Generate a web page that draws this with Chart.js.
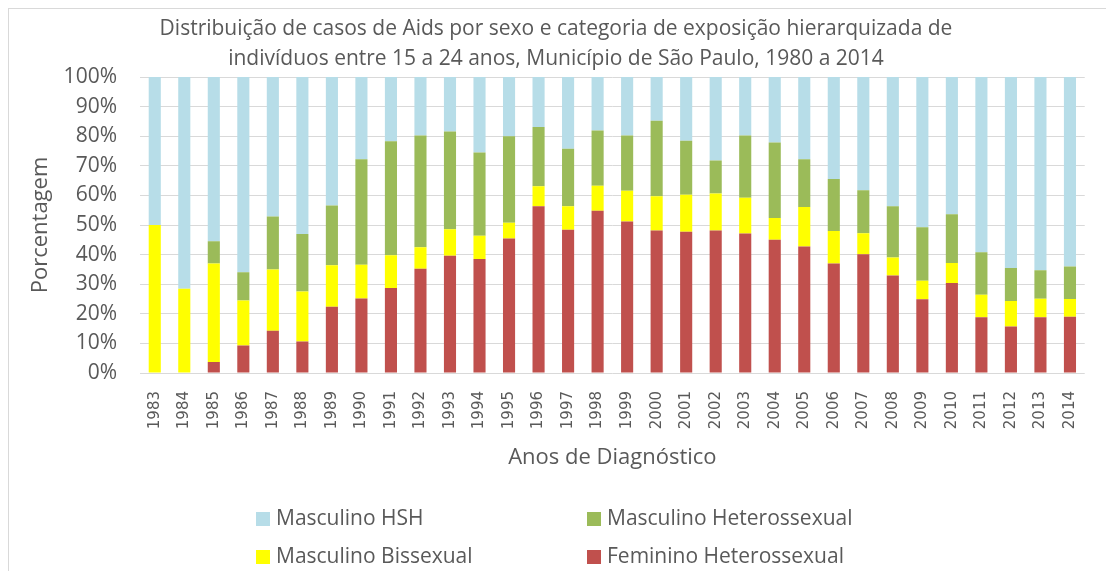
<!DOCTYPE html>
<html>
<head>
<meta charset="utf-8">
<script src="https://cdn.jsdelivr.net/npm/chart.js@4/dist/chart.umd.min.js"></script>
<style>
  body { margin: 0; background: #fff; overflow: hidden; }
  #wrap { position: relative; width: 1106px; height: 571px; }
  #frame { position: absolute; left: 8px; top: 8px; width: 1200px; height: 700px;
           border-left: 1px solid #d9d9d9; border-top: 1px solid #d9d9d9; }
  #chart { position: absolute; left: 0; top: 0; }
  .leg { position: absolute; font-family: "Open Sans", sans-serif; font-size: 21px;
         color: #595959; line-height: 24px; white-space: nowrap; }
  .leg i { display: inline-block; width: 14px; height: 14px; margin-right: 6px;
           vertical-align: -1px; }
</style>
</head>
<body>
<div id="wrap">
  <div id="frame"></div>
  <canvas id="chart" width="1106" height="571"></canvas>
  <div class="leg" style="left:256px; top:505px;"><i style="background:#b7dde8"></i>Masculino HSH</div>
  <div class="leg" style="left:587px; top:505px;"><i style="background:#9bbb59"></i>Masculino Heterossexual</div>
  <div class="leg" style="left:256px; top:543px;"><i style="background:#ffff00"></i>Masculino Bissexual</div>
  <div class="leg" style="left:587px; top:543px;"><i style="background:#c0504d"></i>Feminino Heterossexual</div>
</div>
<script>
// anos de diagnóstico
const years = ["1983", "1984", "1985", "1986", "1987", "1988", "1989", "1990", "1991", "1992",
  "1993", "1994", "1995", "1996", "1997", "1998", "1999", "2000", "2001", "2002",
  "2003", "2004", "2005", "2006", "2007", "2008", "2009", "2010", "2011", "2012",
  "2013", "2014"];

// percentuais (de baixo para cima na pilha)
const femHetero = [0, 0, 3.7, 9.3, 14.3, 10.6, 22.4, 25.2, 28.7, 35.2, 39.6, 38.5, 45.4, 56.3, 48.4, 54.8,
  51.2, 48.1, 47.7, 48.1, 47.1, 45.0, 42.7, 37.0, 40.1, 32.9, 24.9, 30.4, 18.8, 15.7, 18.8, 19.0];
const mascBissexual = [50.0, 28.5, 33.3, 15.2, 20.7, 16.9, 14.0, 11.4, 11.1, 7.3, 9.0, 7.9, 5.4, 6.8, 7.9, 8.5,
  10.4, 11.6, 12.5, 12.5, 12.1, 7.4, 13.4, 11.0, 7.1, 6.1, 6.3, 6.8, 7.6, 8.6, 6.3, 6.0];
const mascHetero = [0, 0, 7.5, 9.5, 17.9, 19.5, 20.2, 35.6, 38.5, 37.7, 33.0, 28.1, 29.2, 20.0, 19.5, 18.6,
  18.6, 25.5, 18.3, 11.2, 21.0, 25.5, 16.1, 17.5, 14.5, 17.3, 18.0, 16.4, 14.4, 11.2, 9.6, 11.0];
const mascHSH = [50.0, 71.5, 55.5, 66.0, 47.1, 53.0, 43.4, 27.8, 21.7, 19.8, 18.4, 25.5, 20.0, 16.9, 24.2, 18.1,
  19.8, 14.8, 21.5, 28.2, 19.8, 22.1, 27.8, 34.5, 38.3, 43.7, 50.8, 46.4, 59.2, 64.5, 65.3, 64.0];

const yTicks = [0, 10, 20, 30, 40, 50, 60, 70, 80, 90, 100];

const gray = "#595959";
const font = "'Open Sans', sans-serif";

function bar(label, data, color) {
  return {
    label: label,
    data: data,
    backgroundColor: color,
    borderWidth: 0,
    barPercentage: 0.41,
    categoryPercentage: 1.0
  };
}

const ctx = document.getElementById("chart").getContext("2d");
new Chart(ctx, {
  type: "bar",
  data: {
    labels: years,
    datasets: [
      bar("Feminino Heterossexual", femHetero, "#c0504d"),
      bar("Masculino Bissexual", mascBissexual, "#ffff00"),
      bar("Masculino Heterossexual", mascHetero, "#9bbb59"),
      bar("Masculino HSH", mascHSH, "#b7dde8")
    ]
  },
  options: {
    responsive: false,
    animation: false,
    layout: { padding: { left: 8, top: 0, right: 2, bottom: 100 } },
    plugins: {
      legend: { display: false },
      tooltip: { enabled: false },
      title: {
        display: true,
        text: ["Distribuição de casos de Aids por sexo e categoria de exposição hierarquizada de",
               "indivíduos entre 15 a 24 anos, Município de São Paulo, 1980 a 2014"],
        color: gray,
        font: { family: font, size: 21, weight: "normal", lineHeight: 30 / 21 },
        padding: { top: 14, bottom: 3 }
      }
    },
    scales: {
      x: {
        stacked: true,
        grid: { display: false, drawTicks: false },
        border: { display: false },
        ticks: {
          color: gray,
          font: { family: "'DejaVu Sans', sans-serif", size: 15 },
          minRotation: 90,
          maxRotation: 90,
          autoSkip: false,
          padding: 18
        },
        title: {
          display: true,
          text: "Anos de Diagnóstico",
          color: gray,
          font: { family: font, size: 22 },
          padding: 0
        },
        afterFit: function (scale) { scale.height = 98; }
      },
      y: {
        stacked: true,
        min: 0,
        max: 100,
        afterBuildTicks: function (scale) {
          scale.ticks = yTicks.map(v => ({ value: v }));
        },
        grid: { color: "#d9d9d9", lineWidth: 1, drawTicks: false },
        border: { display: false },
        ticks: {
          color: gray,
          font: { family: font, size: 21 },
          padding: 23,
          callback: v => v + "%"
        },
        title: {
          display: true,
          text: "Porcentagem",
          color: gray,
          font: { family: font, size: 22 },
          padding: { top: 20, bottom: 0 }
        },
        afterFit: function (scale) { scale.width = 132; }
      }
    }
  }
});
</script>
</body>
</html>
